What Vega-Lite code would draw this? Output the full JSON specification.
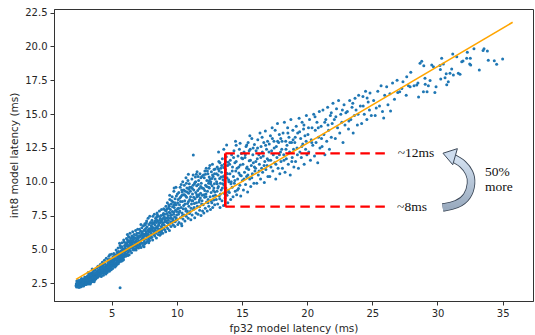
{
  "$schema": "https://vega.github.io/schema/vega-lite/v6.json",
  "width": 479,
  "height": 292,
  "autosize": {"type": "none"},
  "padding": {"left": 54, "top": 9, "right": 2, "bottom": 34},
  "background": "white",
  "datasets": {
    "pts": [
      {"x":2.26,"y":2.31},{"x":2.28,"y":2.45},{"x":2.3,"y":2.22},{"x":2.31,"y":2.38},{"x":2.33,"y":2.52},{"x":2.34,"y":2.28},{"x":2.36,"y":2.43},{"x":2.37,"y":2.6},{"x":2.39,"y":2.34},{"x":2.4,"y":2.49},
      {"x":2.41,"y":2.25},{"x":2.43,"y":2.4},{"x":2.44,"y":2.56},{"x":2.45,"y":2.31},{"x":2.47,"y":2.46},{"x":2.48,"y":2.36},{"x":2.5,"y":2.62},{"x":2.51,"y":2.27},{"x":2.52,"y":2.5},{"x":2.54,"y":2.41},
      {"x":2.55,"y":2.33},{"x":2.56,"y":2.58},{"x":2.58,"y":2.45},{"x":2.59,"y":2.29},{"x":2.6,"y":2.53},{"x":2.62,"y":2.38},{"x":2.63,"y":2.66},{"x":2.64,"y":2.47},{"x":2.66,"y":2.33},{"x":2.67,"y":2.56},
      {"x":2.69,"y":2.42},{"x":2.7,"y":2.72},{"x":2.71,"y":2.5},{"x":2.73,"y":2.36},{"x":2.74,"y":2.61},{"x":2.75,"y":2.45},{"x":2.77,"y":2.31},{"x":2.78,"y":2.55},{"x":2.79,"y":2.68},{"x":2.81,"y":2.4},
      {"x":2.82,"y":2.5},{"x":2.83,"y":2.77},{"x":2.85,"y":2.35},{"x":2.86,"y":2.6},{"x":2.87,"y":2.46},{"x":2.88,"y":2.84},{"x":2.9,"y":2.55},{"x":2.91,"y":2.39},{"x":2.92,"y":2.66},{"x":2.94,"y":2.5},
      {"x":2.95,"y":2.42},{"x":2.96,"y":2.74},{"x":2.97,"y":2.58},{"x":2.98,"y":2.47},{"x":2.99,"y":2.9},{"x":2.32,"y":2.67},{"x":2.42,"y":2.7},{"x":2.53,"y":2.2},{"x":2.65,"y":2.24},{"x":2.76,"y":2.8},
      {"x":2.84,"y":2.3},{"x":2.93,"y":2.97},{"x":2.57,"y":2.73},{"x":2.46,"y":2.2},{"x":2.68,"y":2.86},{"x":2.8,"y":2.62},{"x":2.89,"y":2.72},{"x":2.35,"y":2.5},{"x":2.72,"y":2.44},{"x":2.61,"y":2.4},
      {"x":3.01,"y":2.52},{"x":3.03,"y":2.67},{"x":3.04,"y":2.41},{"x":3.06,"y":2.8},{"x":3.07,"y":2.58},{"x":3.09,"y":2.95},{"x":3.1,"y":2.47},{"x":3.12,"y":2.71},{"x":3.13,"y":2.62},{"x":3.15,"y":3.05},
      {"x":3.16,"y":2.53},{"x":3.18,"y":2.84},{"x":3.19,"y":2.68},{"x":3.21,"y":2.45},{"x":3.22,"y":2.93},{"x":3.24,"y":2.6},{"x":3.25,"y":2.76},{"x":3.27,"y":3.15},{"x":3.28,"y":2.55},{"x":3.3,"y":2.88},
      {"x":3.31,"y":2.7},{"x":3.33,"y":2.5},{"x":3.34,"y":3.0},{"x":3.36,"y":2.64},{"x":3.37,"y":2.82},{"x":3.39,"y":3.22},{"x":3.4,"y":2.58},{"x":3.42,"y":2.95},{"x":3.43,"y":2.74},{"x":3.45,"y":2.62},
      {"x":3.46,"y":3.1},{"x":3.48,"y":2.85},{"x":3.49,"y":2.68},{"x":3.51,"y":3.3},{"x":3.52,"y":2.78},{"x":3.54,"y":2.97},{"x":3.55,"y":2.64},{"x":3.57,"y":3.16},{"x":3.58,"y":2.86},{"x":3.6,"y":2.72},
      {"x":3.61,"y":3.4},{"x":3.63,"y":3.02},{"x":3.64,"y":2.8},{"x":3.66,"y":2.7},{"x":3.67,"y":3.22},{"x":3.69,"y":2.93},{"x":3.7,"y":3.08},{"x":3.72,"y":2.78},{"x":3.73,"y":3.5},{"x":3.75,"y":2.88},
      {"x":3.76,"y":3.15},{"x":3.78,"y":3.0},{"x":3.79,"y":2.84},{"x":3.81,"y":3.32},{"x":3.82,"y":3.05},{"x":3.84,"y":2.92},{"x":3.85,"y":3.62},{"x":3.87,"y":3.18},{"x":3.88,"y":2.97},{"x":3.9,"y":3.4},
      {"x":3.91,"y":3.1},{"x":3.93,"y":2.95},{"x":3.94,"y":3.75},{"x":3.96,"y":3.25},{"x":3.97,"y":3.03},{"x":3.99,"y":3.48},{"x":3.2,"y":3.3},{"x":3.5,"y":3.55},{"x":3.65,"y":2.62},{"x":3.35,"y":2.45},
      {"x":3.05,"y":2.9},{"x":3.14,"y":2.75},{"x":3.23,"y":3.05},{"x":3.32,"y":2.78},{"x":3.41,"y":3.1},{"x":3.53,"y":2.9},{"x":3.62,"y":3.2},{"x":3.71,"y":2.95},{"x":3.8,"y":3.25},{"x":3.89,"y":3.05},{"x":3.98,"y":3.35},
      {"x":4.02,"y":3.2},{"x":4.04,"y":3.45},{"x":4.06,"y":3.05},{"x":4.08,"y":3.62},{"x":4.1,"y":3.3},{"x":4.12,"y":3.88},{"x":4.14,"y":3.15},{"x":4.16,"y":3.52},{"x":4.18,"y":3.38},{"x":4.2,"y":3.0},
      {"x":4.22,"y":3.7},{"x":4.24,"y":3.42},{"x":4.26,"y":3.25},{"x":4.28,"y":4.05},{"x":4.3,"y":3.58},{"x":4.32,"y":3.35},{"x":4.34,"y":3.8},{"x":4.36,"y":3.1},{"x":4.38,"y":3.5},{"x":4.4,"y":3.66},
      {"x":4.42,"y":3.28},{"x":4.44,"y":4.2},{"x":4.46,"y":3.55},{"x":4.48,"y":3.4},{"x":4.5,"y":3.9},{"x":4.52,"y":3.22},{"x":4.54,"y":3.72},{"x":4.56,"y":3.48},{"x":4.58,"y":4.35},{"x":4.6,"y":3.6},
      {"x":4.62,"y":3.35},{"x":4.64,"y":3.84},{"x":4.66,"y":3.52},{"x":4.68,"y":4.1},{"x":4.7,"y":3.42},{"x":4.72,"y":3.7},{"x":4.74,"y":3.95},{"x":4.76,"y":3.5},{"x":4.78,"y":4.5},{"x":4.8,"y":3.62},
      {"x":4.82,"y":3.38},{"x":4.84,"y":4.02},{"x":4.86,"y":3.78},{"x":4.88,"y":3.55},{"x":4.9,"y":4.3},{"x":4.92,"y":3.66},{"x":4.94,"y":3.88},{"x":4.96,"y":3.5},{"x":4.98,"y":4.65},{"x":4.15,"y":3.78},
      {"x":4.35,"y":3.95},{"x":4.55,"y":3.18},{"x":4.75,"y":4.25},{"x":4.95,"y":4.1},{"x":4.25,"y":3.6},{"x":4.65,"y":3.3},{"x":4.85,"y":4.6},{"x":4.45,"y":3.62},{"x":4.05,"y":3.75},
      {"x":4.07,"y":3.4},{"x":4.17,"y":3.6},{"x":4.27,"y":3.45},{"x":4.37,"y":3.72},{"x":4.47,"y":3.3},{"x":4.57,"y":3.85},{"x":4.67,"y":3.7},{"x":4.77,"y":3.88},{"x":4.87,"y":4.15},{"x":4.97,"y":3.82},
      {"x":5.02,"y":3.85},{"x":5.04,"y":4.2},{"x":5.07,"y":3.6},{"x":5.09,"y":4.45},{"x":5.11,"y":4.0},{"x":5.13,"y":3.75},{"x":5.16,"y":4.7},{"x":5.18,"y":4.1},{"x":5.2,"y":3.9},{"x":5.22,"y":4.35},
      {"x":5.25,"y":3.7},{"x":5.27,"y":4.55},{"x":5.29,"y":4.2},{"x":5.31,"y":4.0},{"x":5.34,"y":4.95},{"x":5.36,"y":4.3},{"x":5.38,"y":3.88},{"x":5.4,"y":4.6},{"x":5.43,"y":4.15},{"x":5.45,"y":4.4},
      {"x":5.47,"y":3.95},{"x":5.49,"y":5.1},{"x":5.52,"y":4.5},{"x":5.54,"y":4.25},{"x":5.56,"y":4.05},{"x":5.58,"y":4.75},{"x":5.61,"y":4.4},{"x":5.63,"y":4.15},{"x":5.65,"y":5.3},{"x":5.67,"y":4.6},
      {"x":5.7,"y":4.3},{"x":5.72,"y":4.9},{"x":5.74,"y":4.12},{"x":5.76,"y":4.5},{"x":5.79,"y":5.5},{"x":5.81,"y":4.7},{"x":5.83,"y":4.35},{"x":5.85,"y":5.05},{"x":5.88,"y":4.5},{"x":5.9,"y":4.25},
      {"x":5.92,"y":5.7},{"x":5.94,"y":4.85},{"x":5.97,"y":4.6},{"x":5.99,"y":5.3},{"x":5.15,"y":4.45},{"x":5.33,"y":3.8},{"x":5.5,"y":3.95},{"x":5.68,"y":5.15},{"x":5.86,"y":4.2},{"x":5.6,"y":5.45},
      {"x":5.42,"y":4.8},{"x":5.24,"y":4.6},{"x":5.78,"y":4.55},{"x":5.96,"y":5.55},{"x":5.64,"y":2.17},
      {"x":5.05,"y":4.0},{"x":5.12,"y":4.3},{"x":5.19,"y":3.8},{"x":5.26,"y":4.25},{"x":5.35,"y":4.55},{"x":5.44,"y":4.1},{"x":5.53,"y":4.85},{"x":5.62,"y":4.6},{"x":5.71,"y":4.45},{"x":5.8,"y":5.2},{"x":5.89,"y":4.85},{"x":5.98,"y":4.95},
      {"x":5.1,"y":4.15},{"x":5.21,"y":4.5},{"x":5.32,"y":4.3},{"x":5.46,"y":4.65},{"x":5.57,"y":4.3},{"x":5.69,"y":4.75},{"x":5.82,"y":4.95},{"x":5.93,"y":4.45},
      {"x":6.02,"y":4.7},{"x":6.04,"y":5.1},{"x":6.07,"y":4.5},{"x":6.09,"y":5.45},{"x":6.11,"y":4.9},{"x":6.13,"y":5.8},{"x":6.16,"y":4.65},{"x":6.18,"y":5.25},{"x":6.2,"y":6.1},{"x":6.22,"y":5.0},
      {"x":6.25,"y":5.55},{"x":6.27,"y":4.8},{"x":6.29,"y":5.95},{"x":6.31,"y":5.3},{"x":6.34,"y":4.6},{"x":6.36,"y":5.65},{"x":6.38,"y":5.1},{"x":6.4,"y":6.2},{"x":6.43,"y":4.9},{"x":6.45,"y":5.4},
      {"x":6.47,"y":5.8},{"x":6.49,"y":5.15},{"x":6.52,"y":4.75},{"x":6.54,"y":6.0},{"x":6.56,"y":5.5},{"x":6.58,"y":5.2},{"x":6.61,"y":6.3},{"x":6.63,"y":5.0},{"x":6.65,"y":5.7},{"x":6.67,"y":5.35},
      {"x":6.7,"y":4.95},{"x":6.72,"y":6.1},{"x":6.74,"y":5.55},{"x":6.76,"y":5.25},{"x":6.79,"y":5.85},{"x":6.81,"y":5.05},{"x":6.83,"y":6.4},{"x":6.85,"y":5.6},{"x":6.88,"y":5.3},{"x":6.9,"y":6.05},
      {"x":6.92,"y":5.15},{"x":6.94,"y":5.75},{"x":6.97,"y":5.4},{"x":6.99,"y":6.5},{"x":6.15,"y":5.5},{"x":6.33,"y":5.9},{"x":6.51,"y":5.6},{"x":6.69,"y":5.9},{"x":6.87,"y":4.95},{"x":6.24,"y":4.55},
      {"x":6.05,"y":5.3},{"x":6.12,"y":5.0},{"x":6.21,"y":5.7},{"x":6.3,"y":5.15},{"x":6.39,"y":5.5},{"x":6.48,"y":5.35},{"x":6.57,"y":5.85},{"x":6.66,"y":5.1},{"x":6.75,"y":5.8},{"x":6.84,"y":5.45},{"x":6.93,"y":6.2},{"x":6.98,"y":5.9},
      {"x":6.06,"y":4.85},{"x":6.19,"y":5.35},{"x":6.32,"y":5.0},{"x":6.44,"y":5.65},{"x":6.55,"y":5.3},{"x":6.68,"y":5.55},{"x":6.8,"y":5.35},{"x":6.91,"y":5.55},
      {"x":7.02,"y":5.3},{"x":7.04,"y":5.8},{"x":7.06,"y":5.1},{"x":7.09,"y":6.2},{"x":7.11,"y":5.55},{"x":7.13,"y":6.5},{"x":7.15,"y":5.25},{"x":7.18,"y":5.95},{"x":7.2,"y":5.65},{"x":7.22,"y":6.35},
      {"x":7.25,"y":5.15},{"x":7.27,"y":6.05},{"x":7.29,"y":5.75},{"x":7.31,"y":6.6},{"x":7.34,"y":5.45},{"x":7.36,"y":6.2},{"x":7.38,"y":5.9},{"x":7.4,"y":5.3},{"x":7.43,"y":6.75},{"x":7.45,"y":5.7},
      {"x":7.47,"y":6.4},{"x":7.5,"y":6.0},{"x":7.52,"y":5.4},{"x":7.54,"y":6.9},{"x":7.56,"y":6.15},{"x":7.59,"y":5.75},{"x":7.61,"y":6.55},{"x":7.63,"y":5.5},{"x":7.65,"y":6.3},{"x":7.68,"y":7.1},
      {"x":7.7,"y":5.95},{"x":7.72,"y":6.65},{"x":7.74,"y":5.6},{"x":7.77,"y":6.4},{"x":7.79,"y":7.3},{"x":7.81,"y":6.1},{"x":7.83,"y":5.75},{"x":7.86,"y":6.85},{"x":7.88,"y":6.3},{"x":7.9,"y":5.65},
      {"x":7.92,"y":7.45},{"x":7.95,"y":6.55},{"x":7.97,"y":6.0},{"x":7.99,"y":7.0},{"x":7.24,"y":6.85},{"x":7.48,"y":5.2},{"x":7.66,"y":6.95},{"x":7.84,"y":5.5},
      {"x":7.05,"y":5.6},{"x":7.14,"y":6.0},{"x":7.23,"y":5.5},{"x":7.32,"y":6.3},{"x":7.41,"y":6.1},{"x":7.5,"y":5.55},{"x":7.58,"y":6.8},{"x":7.67,"y":6.2},{"x":7.76,"y":5.9},{"x":7.85,"y":6.5},{"x":7.94,"y":6.95},{"x":7.98,"y":5.85},
      {"x":7.07,"y":5.95},{"x":7.19,"y":5.4},{"x":7.3,"y":6.15},{"x":7.42,"y":5.85},{"x":7.53,"y":6.45},{"x":7.64,"y":6.05},{"x":7.75,"y":6.15},{"x":7.87,"y":5.95},{"x":7.96,"y":6.35},
      {"x":8.02,"y":6.2},{"x":8.04,"y":6.75},{"x":8.07,"y":5.9},{"x":8.09,"y":7.15},{"x":8.11,"y":6.45},{"x":8.14,"y":5.7},{"x":8.16,"y":7.45},{"x":8.18,"y":6.6},{"x":8.2,"y":6.1},{"x":8.23,"y":6.95},
      {"x":8.25,"y":6.35},{"x":8.27,"y":7.6},{"x":8.3,"y":6.0},{"x":8.32,"y":6.8},{"x":8.34,"y":6.45},{"x":8.36,"y":7.3},{"x":8.39,"y":6.2},{"x":8.41,"y":7.0},{"x":8.43,"y":5.85},{"x":8.46,"y":6.65},
      {"x":8.48,"y":7.7},{"x":8.5,"y":6.35},{"x":8.52,"y":7.1},{"x":8.55,"y":6.55},{"x":8.57,"y":6.1},{"x":8.59,"y":7.45},{"x":8.61,"y":6.8},{"x":8.64,"y":6.3},{"x":8.66,"y":7.85},{"x":8.68,"y":6.95},
      {"x":8.7,"y":6.5},{"x":8.73,"y":7.3},{"x":8.75,"y":6.15},{"x":8.77,"y":7.05},{"x":8.8,"y":6.7},{"x":8.82,"y":7.95},{"x":8.84,"y":6.4},{"x":8.86,"y":7.2},{"x":8.89,"y":6.85},{"x":8.91,"y":6.2},
      {"x":8.93,"y":7.55},{"x":8.95,"y":6.95},{"x":8.98,"y":6.55},{"x":8.45,"y":7.4},{"x":8.13,"y":6.9},
      {"x":8.06,"y":6.5},{"x":8.15,"y":7.0},{"x":8.24,"y":6.15},{"x":8.33,"y":7.1},{"x":8.42,"y":6.6},{"x":8.51,"y":7.55},{"x":8.6,"y":6.95},{"x":8.69,"y":6.05},{"x":8.78,"y":7.5},{"x":8.87,"y":6.6},{"x":8.96,"y":7.3},{"x":8.99,"y":8.0},
      {"x":8.08,"y":6.65},{"x":8.19,"y":6.35},{"x":8.31,"y":6.55},{"x":8.44,"y":7.2},{"x":8.56,"y":6.75},{"x":8.67,"y":7.15},{"x":8.79,"y":6.3},{"x":8.9,"y":7.0},{"x":8.97,"y":7.65},
      {"x":9.02,"y":6.8},{"x":9.04,"y":7.4},{"x":9.07,"y":6.45},{"x":9.09,"y":7.9},{"x":9.11,"y":7.05},{"x":9.14,"y":6.3},{"x":9.16,"y":8.2},{"x":9.18,"y":7.3},{"x":9.2,"y":6.7},{"x":9.23,"y":7.65},
      {"x":9.25,"y":7.0},{"x":9.27,"y":8.45},{"x":9.3,"y":6.55},{"x":9.32,"y":7.5},{"x":9.34,"y":7.15},{"x":9.36,"y":8.05},{"x":9.39,"y":6.85},{"x":9.41,"y":7.75},{"x":9.43,"y":6.4},{"x":9.46,"y":8.7},
      {"x":9.48,"y":7.3},{"x":9.5,"y":7.95},{"x":9.52,"y":7.05},{"x":9.55,"y":6.7},{"x":9.57,"y":8.35},{"x":9.59,"y":7.55},{"x":9.61,"y":6.95},{"x":9.64,"y":8.9},{"x":9.66,"y":7.8},{"x":9.68,"y":7.25},
      {"x":9.7,"y":8.5},{"x":9.73,"y":6.8},{"x":9.75,"y":7.6},{"x":9.77,"y":9.3},{"x":9.8,"y":8.1},{"x":9.82,"y":7.4},{"x":9.84,"y":6.7},{"x":9.86,"y":8.75},{"x":9.89,"y":7.9},{"x":9.91,"y":7.15},
      {"x":9.93,"y":9.6},{"x":9.95,"y":8.3},{"x":9.98,"y":7.55},{"x":9.45,"y":9.0},{"x":9.79,"y":9.55},
      {"x":9.06,"y":7.6},{"x":9.15,"y":7.1},{"x":9.24,"y":8.0},{"x":9.33,"y":6.95},{"x":9.42,"y":8.2},{"x":9.51,"y":7.5},{"x":9.6,"y":8.6},{"x":9.69,"y":7.1},{"x":9.78,"y":8.3},{"x":9.87,"y":7.05},{"x":9.96,"y":8.95},{"x":9.99,"y":7.8},
      {"x":9.08,"y":7.2},{"x":9.19,"y":7.85},{"x":9.29,"y":7.35},{"x":9.38,"y":8.3},{"x":9.49,"y":7.7},{"x":9.58,"y":7.3},{"x":9.67,"y":8.15},{"x":9.76,"y":7.75},{"x":9.85,"y":8.45},{"x":9.94,"y":7.35},
      {"x":10.02,"y":7.2},{"x":10.05,"y":8.0},{"x":10.07,"y":6.85},{"x":10.1,"y":8.7},{"x":10.12,"y":7.6},{"x":10.15,"y":9.2},{"x":10.17,"y":7.0},{"x":10.2,"y":8.3},{"x":10.22,"y":7.85},{"x":10.25,"y":9.6},
      {"x":10.27,"y":7.35},{"x":10.3,"y":8.9},{"x":10.32,"y":8.1},{"x":10.35,"y":6.9},{"x":10.37,"y":9.4},{"x":10.4,"y":7.7},{"x":10.42,"y":8.55},{"x":10.45,"y":10.0},{"x":10.47,"y":7.25},{"x":10.5,"y":9.05},
      {"x":10.52,"y":8.25},{"x":10.55,"y":7.55},{"x":10.57,"y":9.75},{"x":10.6,"y":8.6},{"x":10.62,"y":7.1},{"x":10.65,"y":9.3},{"x":10.67,"y":8.0},{"x":10.7,"y":10.3},{"x":10.72,"y":7.45},{"x":10.75,"y":8.85},
      {"x":10.77,"y":9.55},{"x":10.8,"y":7.85},{"x":10.82,"y":8.4},{"x":10.85,"y":10.1},{"x":10.87,"y":7.3},{"x":10.9,"y":9.15},{"x":10.92,"y":8.2},{"x":10.95,"y":9.85},{"x":10.97,"y":7.65},{"x":10.99,"y":8.7},
      {"x":10.38,"y":6.75},{"x":10.88,"y":10.55},
      {"x":10.04,"y":9.1},{"x":10.13,"y":8.05},{"x":10.23,"y":8.8},{"x":10.33,"y":9.8},{"x":10.43,"y":7.5},{"x":10.53,"y":9.4},{"x":10.63,"y":8.35},{"x":10.73,"y":9.9},{"x":10.83,"y":7.7},{"x":10.93,"y":9.45},{"x":10.41,"y":9.25},{"x":10.68,"y":8.95},
      {"x":10.06,"y":8.45},{"x":10.18,"y":7.75},{"x":10.28,"y":8.55},{"x":10.39,"y":9.0},{"x":10.49,"y":8.0},{"x":10.59,"y":9.05},{"x":10.69,"y":7.85},{"x":10.79,"y":9.25},{"x":10.89,"y":8.55},{"x":10.98,"y":9.6},
      {"x":11.02,"y":7.8},{"x":11.05,"y":8.9},{"x":11.07,"y":7.2},{"x":11.1,"y":9.6},{"x":11.12,"y":8.35},{"x":11.15,"y":10.2},{"x":11.17,"y":7.55},{"x":11.2,"y":9.1},{"x":11.22,"y":8.6},{"x":11.25,"y":10.5},
      {"x":11.27,"y":7.95},{"x":11.3,"y":9.4},{"x":11.32,"y":8.1},{"x":11.35,"y":9.85},{"x":11.37,"y":7.35},{"x":11.4,"y":8.75},{"x":11.42,"y":10.35},{"x":11.45,"y":9.2},{"x":11.47,"y":7.7},{"x":11.5,"y":8.45},
      {"x":11.52,"y":9.7},{"x":11.55,"y":10.75},{"x":11.57,"y":8.2},{"x":11.6,"y":9.35},{"x":11.62,"y":7.6},{"x":11.65,"y":8.95},{"x":11.67,"y":10.1},{"x":11.7,"y":8.5},{"x":11.72,"y":9.5},{"x":11.75,"y":7.9},
      {"x":11.77,"y":10.6},{"x":11.8,"y":8.8},{"x":11.82,"y":9.15},{"x":11.85,"y":7.5},{"x":11.87,"y":9.9},{"x":11.9,"y":8.35},{"x":11.92,"y":10.4},{"x":11.95,"y":9.0},{"x":11.97,"y":7.85},{"x":11.26,"y":11.98},
      {"x":11.04,"y":9.3},{"x":11.14,"y":8.6},{"x":11.24,"y":9.75},{"x":11.34,"y":8.4},{"x":11.44,"y":10.0},{"x":11.54,"y":8.9},{"x":11.64,"y":9.8},{"x":11.74,"y":8.15},{"x":11.84,"y":10.3},{"x":11.94,"y":9.55},{"x":11.49,"y":10.55},{"x":11.69,"y":9.05},
      {"x":11.09,"y":8.05},{"x":11.19,"y":9.5},{"x":11.29,"y":8.85},{"x":11.39,"y":9.95},{"x":11.53,"y":9.05},{"x":11.63,"y":10.4},{"x":11.73,"y":8.65},{"x":11.83,"y":9.65},{"x":11.93,"y":8.6},
      {"x":12.02,"y":8.3},{"x":12.05,"y":9.5},{"x":12.07,"y":7.7},{"x":12.1,"y":10.3},{"x":12.13,"y":8.85},{"x":12.15,"y":10.8},{"x":12.18,"y":8.05},{"x":12.2,"y":9.75},{"x":12.23,"y":9.1},{"x":12.25,"y":11.0},
      {"x":12.28,"y":8.5},{"x":12.3,"y":10.1},{"x":12.33,"y":7.85},{"x":12.35,"y":9.3},{"x":12.38,"y":10.6},{"x":12.4,"y":8.7},{"x":12.43,"y":9.9},{"x":12.45,"y":8.2},{"x":12.48,"y":10.35},{"x":12.5,"y":9.55},
      {"x":12.53,"y":11.2},{"x":12.55,"y":8.9},{"x":12.58,"y":7.95},{"x":12.6,"y":10.0},{"x":12.63,"y":9.2},{"x":12.65,"y":10.75},{"x":12.68,"y":8.45},{"x":12.7,"y":9.7},{"x":12.73,"y":11.3},{"x":12.75,"y":8.1},
      {"x":12.78,"y":10.4},{"x":12.8,"y":9.35},{"x":12.83,"y":8.65},{"x":12.85,"y":10.9},{"x":12.88,"y":9.85},{"x":12.9,"y":8.3},{"x":12.93,"y":10.2},{"x":12.96,"y":9.0},
      {"x":12.04,"y":10.5},{"x":12.14,"y":9.35},{"x":12.24,"y":8.9},{"x":12.34,"y":10.8},{"x":12.44,"y":9.6},{"x":12.54,"y":10.2},{"x":12.64,"y":8.6},{"x":12.74,"y":10.5},{"x":12.84,"y":9.55},{"x":12.94,"y":10.95},{"x":12.47,"y":11.0},{"x":12.91,"y":9.25},
      {"x":12.09,"y":9.05},{"x":12.19,"y":10.55},{"x":12.29,"y":9.65},{"x":12.39,"y":8.45},{"x":12.49,"y":10.05},{"x":12.59,"y":9.85},{"x":12.69,"y":10.25},{"x":12.79,"y":8.95},{"x":12.89,"y":10.6},
      {"x":13.02,"y":8.7},{"x":13.05,"y":10.0},{"x":13.08,"y":9.3},{"x":13.1,"y":11.1},{"x":13.13,"y":8.35},{"x":13.16,"y":10.5},{"x":13.19,"y":9.65},{"x":13.22,"y":11.5},{"x":13.25,"y":8.95},{"x":13.28,"y":10.25},
      {"x":13.31,"y":8.1},{"x":13.34,"y":9.9},{"x":13.37,"y":11.0},{"x":13.4,"y":9.4},{"x":13.43,"y":10.7},{"x":13.46,"y":8.6},{"x":13.49,"y":11.7},{"x":13.52,"y":9.85},{"x":13.55,"y":10.4},{"x":13.58,"y":8.25},
      {"x":13.61,"y":9.15},{"x":13.64,"y":11.3},{"x":13.67,"y":10.05},{"x":13.7,"y":8.8},{"x":13.73,"y":10.9},{"x":13.76,"y":9.55},{"x":13.79,"y":11.85},{"x":13.82,"y":12.72},{"x":13.85,"y":9.0},{"x":13.88,"y":10.6},
      {"x":13.91,"y":8.45},{"x":13.94,"y":11.45},{"x":13.97,"y":10.15},{"x":13.2,"y":12.2},{"x":13.6,"y":12.4},
      {"x":13.04,"y":10.6},{"x":13.14,"y":9.55},{"x":13.24,"y":10.8},{"x":13.34,"y":9.1},{"x":13.44,"y":11.2},{"x":13.54,"y":10.15},{"x":13.64,"y":9.75},{"x":13.74,"y":11.5},{"x":13.84,"y":10.3},{"x":13.94,"y":9.35},{"x":13.3,"y":11.4},{"x":13.8,"y":10.65},
      {"x":13.09,"y":9.85},{"x":13.19,"y":10.95},{"x":13.29,"y":8.75},{"x":13.39,"y":10.35},{"x":13.49,"y":9.55},{"x":13.59,"y":11.05},{"x":13.69,"y":10.5},{"x":13.79,"y":9.2},{"x":13.89,"y":11.2},{"x":13.99,"y":10.0},
      {"x":14.03,"y":9.2},{"x":14.07,"y":10.6},{"x":14.1,"y":11.6},{"x":14.13,"y":8.7},{"x":14.17,"y":10.0},{"x":14.2,"y":12.0},{"x":14.24,"y":9.6},{"x":14.27,"y":11.1},{"x":14.31,"y":8.9},{"x":14.34,"y":10.4},
      {"x":14.38,"y":12.3},{"x":14.41,"y":9.9},{"x":14.45,"y":11.4},{"x":14.48,"y":9.3},{"x":14.52,"y":10.8},{"x":14.55,"y":12.7},{"x":14.59,"y":9.05},{"x":14.62,"y":11.0},{"x":14.66,"y":10.2},{"x":14.69,"y":11.9},
      {"x":14.73,"y":9.5},{"x":14.76,"y":10.65},{"x":14.8,"y":12.4},{"x":14.83,"y":9.75},{"x":14.87,"y":11.25},{"x":14.9,"y":8.95},{"x":14.94,"y":10.45},{"x":14.97,"y":11.75},{"x":14.5,"y":13.0},{"x":14.85,"y":12.85},
      {"x":14.05,"y":11.3},{"x":14.15,"y":9.85},{"x":14.25,"y":10.8},{"x":14.35,"y":11.8},{"x":14.45,"y":10.1},{"x":14.55,"y":11.5},{"x":14.65,"y":9.4},{"x":14.75,"y":11.1},{"x":14.85,"y":10.5},{"x":14.95,"y":12.1},
      {"x":15.03,"y":10.1},{"x":15.07,"y":11.3},{"x":15.11,"y":9.4},{"x":15.15,"y":12.2},{"x":15.19,"y":10.7},{"x":15.23,"y":11.8},{"x":15.27,"y":9.8},{"x":15.31,"y":12.6},{"x":15.35,"y":10.4},{"x":15.39,"y":11.1},
      {"x":15.43,"y":9.25},{"x":15.47,"y":12.9},{"x":15.51,"y":10.9},{"x":15.55,"y":11.55},{"x":15.59,"y":10.2},{"x":15.63,"y":12.4},{"x":15.67,"y":9.65},{"x":15.71,"y":11.2},{"x":15.75,"y":13.2},{"x":15.79,"y":10.6},
      {"x":15.83,"y":12.0},{"x":15.87,"y":11.4},{"x":15.91,"y":9.9},{"x":15.95,"y":12.75},{"x":15.99,"y":10.8},{"x":15.36,"y":12.72},{"x":15.6,"y":13.4},
      {"x":15.05,"y":11.7},{"x":15.15,"y":10.2},{"x":15.25,"y":12.0},{"x":15.35,"y":11.0},{"x":15.45,"y":10.5},{"x":15.55,"y":12.3},{"x":15.65,"y":11.6},{"x":15.75,"y":10.3},{"x":15.85,"y":12.5},{"x":15.95,"y":11.1},
      {"x":16.04,"y":11.0},{"x":16.08,"y":12.3},{"x":16.13,"y":9.9},{"x":16.17,"y":11.7},{"x":16.21,"y":13.1},{"x":16.25,"y":10.5},{"x":16.29,"y":12.0},{"x":16.33,"y":11.3},{"x":16.38,"y":13.6},{"x":16.42,"y":10.2},
      {"x":16.46,"y":12.6},{"x":16.5,"y":11.0},{"x":16.54,"y":13.3},{"x":16.58,"y":10.7},{"x":16.63,"y":11.9},{"x":16.67,"y":12.9},{"x":16.71,"y":9.95},{"x":16.75,"y":11.5},{"x":16.79,"y":13.75},{"x":16.83,"y":10.9},
      {"x":16.88,"y":12.4},{"x":16.92,"y":11.2},{"x":16.96,"y":13.0},{"x":16.99,"y":10.4},
      {"x":16.06,"y":11.5},{"x":16.19,"y":12.5},{"x":16.31,"y":10.8},{"x":16.44,"y":11.8},{"x":16.56,"y":12.2},{"x":16.69,"y":11.2},{"x":16.81,"y":12.7},{"x":16.94,"y":11.7},
      {"x":17.04,"y":11.6},{"x":17.09,"y":12.8},{"x":17.13,"y":10.4},{"x":17.18,"y":13.4},{"x":17.22,"y":11.1},{"x":17.27,"y":12.3},{"x":17.31,"y":14.0},{"x":17.36,"y":10.8},{"x":17.4,"y":12.0},{"x":17.45,"y":13.0},
      {"x":17.5,"y":11.4},{"x":17.54,"y":13.8},{"x":17.59,"y":10.2},{"x":17.63,"y":12.6},{"x":17.68,"y":11.8},{"x":17.72,"y":14.3},{"x":17.77,"y":11.0},{"x":17.81,"y":12.9},{"x":17.86,"y":13.5},{"x":17.9,"y":10.6},
      {"x":17.95,"y":12.2},{"x":17.99,"y":11.5},
      {"x":17.07,"y":12.2},{"x":17.2,"y":11.6},{"x":17.33,"y":13.2},{"x":17.47,"y":12.5},{"x":17.6,"y":11.3},{"x":17.73,"y":13.0},{"x":17.87,"y":12.0},{"x":17.97,"y":13.2},
      {"x":18.05,"y":12.4},{"x":18.1,"y":11.0},{"x":18.15,"y":13.6},{"x":18.2,"y":12.0},{"x":18.25,"y":14.4},{"x":18.3,"y":10.7},{"x":18.35,"y":13.0},{"x":18.4,"y":11.7},{"x":18.45,"y":12.7},{"x":18.5,"y":14.0},
      {"x":18.55,"y":11.3},{"x":18.6,"y":13.3},{"x":18.65,"y":12.2},{"x":18.7,"y":10.5},{"x":18.75,"y":14.6},{"x":18.8,"y":12.9},{"x":18.85,"y":11.8},{"x":18.9,"y":13.8},{"x":18.95,"y":12.4},{"x":18.98,"y":11.1},
      {"x":18.07,"y":13.0},{"x":18.22,"y":11.6},{"x":18.37,"y":12.4},{"x":18.52,"y":13.6},{"x":18.67,"y":12.9},{"x":18.82,"y":11.5},{"x":18.92,"y":13.1},
      {"x":19.05,"y":12.9},{"x":19.11,"y":11.5},{"x":19.16,"y":14.1},{"x":19.22,"y":12.5},{"x":19.27,"y":13.6},{"x":19.33,"y":11.0},{"x":19.38,"y":14.7},{"x":19.44,"y":12.2},{"x":19.5,"y":13.2},{"x":19.55,"y":11.8},
      {"x":19.61,"y":14.4},{"x":19.66,"y":12.8},{"x":19.72,"y":13.9},{"x":19.77,"y":11.3},{"x":19.83,"y":13.4},{"x":19.88,"y":12.4},{"x":19.94,"y":14.9},{"x":19.98,"y":12.0},
      {"x":19.08,"y":13.3},{"x":19.25,"y":12.0},{"x":19.42,"y":13.7},{"x":19.58,"y":12.6},{"x":19.75,"y":14.2},{"x":19.92,"y":13.0},
      {"x":20.06,"y":13.5},{"x":20.12,"y":12.2},{"x":20.18,"y":14.6},{"x":20.25,"y":11.6},{"x":20.31,"y":13.1},{"x":20.37,"y":14.0},{"x":20.43,"y":12.7},{"x":20.5,"y":15.0},{"x":20.56,"y":11.9},{"x":20.62,"y":13.8},
      {"x":20.68,"y":12.9},{"x":20.75,"y":14.4},{"x":20.81,"y":11.4},{"x":20.87,"y":13.3},{"x":20.93,"y":15.2},{"x":20.98,"y":12.5},
      {"x":20.1,"y":14.0},{"x":20.35,"y":12.9},{"x":20.6,"y":14.8},{"x":20.85,"y":14.0},
      {"x":21.07,"y":14.1},{"x":21.14,"y":12.6},{"x":21.21,"y":15.3},{"x":21.28,"y":13.5},{"x":21.36,"y":12.0},{"x":21.43,"y":14.6},{"x":21.5,"y":13.0},{"x":21.57,"y":15.5},{"x":21.64,"y":13.8},{"x":21.71,"y":12.4},
      {"x":21.78,"y":14.9},{"x":21.85,"y":13.3},{"x":21.92,"y":14.3},{"x":21.98,"y":15.8},
      {"x":21.1,"y":13.2},{"x":21.35,"y":14.4},{"x":21.6,"y":14.2},{"x":21.85,"y":15.1},
      {"x":22.08,"y":14.6},{"x":22.16,"y":13.2},{"x":22.25,"y":15.4},{"x":22.33,"y":14.0},{"x":22.41,"y":16.0},{"x":22.5,"y":13.6},{"x":22.58,"y":15.0},{"x":22.66,"y":14.4},{"x":22.75,"y":12.9},{"x":22.83,"y":15.7},
      {"x":22.9,"y":14.2},{"x":22.97,"y":15.1},{"x":22.2,"y":14.8},{"x":22.7,"y":15.3},
      {"x":23.08,"y":15.2},{"x":23.17,"y":13.9},{"x":23.26,"y":16.0},{"x":23.35,"y":14.6},{"x":23.44,"y":15.5},{"x":23.53,"y":13.6},{"x":23.62,"y":14.9},{"x":23.67,"y":16.17},{"x":23.75,"y":15.3},{"x":23.85,"y":14.2},
      {"x":23.95,"y":16.4},{"x":23.2,"y":14.5},{"x":23.5,"y":15.8},{"x":23.9,"y":15.0},
      {"x":24.08,"y":15.6},{"x":24.18,"y":14.3},{"x":24.28,"y":16.3},{"x":24.38,"y":15.0},{"x":24.48,"y":16.7},{"x":24.58,"y":14.6},{"x":24.68,"y":15.9},{"x":24.78,"y":15.3},{"x":24.82,"y":16.56},{"x":24.92,"y":14.9},
      {"x":24.3,"y":15.6},{"x":24.6,"y":16.2},
      {"x":25.1,"y":16.0},{"x":25.22,"y":14.9},{"x":25.3,"y":15.45},{"x":25.42,"y":16.7},{"x":25.55,"y":15.6},{"x":25.67,"y":17.1},{"x":25.78,"y":15.2},{"x":25.87,"y":14.72},{"x":25.95,"y":16.4},
      {"x":26.1,"y":17.03},{"x":26.2,"y":15.7},{"x":26.35,"y":16.5},{"x":26.4,"y":15.23},{"x":26.55,"y":17.3},{"x":26.7,"y":16.1},{"x":26.9,"y":17.5},{"x":26.95,"y":16.6},
      {"x":27.1,"y":16.66},{"x":27.26,"y":16.9},{"x":27.35,"y":17.4},{"x":27.6,"y":16.4},{"x":27.64,"y":17.77},{"x":27.77,"y":17.1},{"x":27.9,"y":17.03},{"x":27.95,"y":18.1},
      {"x":28.2,"y":17.1},{"x":28.41,"y":17.15},{"x":28.5,"y":17.3},{"x":28.55,"y":16.27},{"x":28.66,"y":18.76},{"x":28.79,"y":18.9},{"x":28.92,"y":16.66},{"x":28.95,"y":18.58},
      {"x":29.04,"y":17.65},{"x":29.06,"y":17.2},{"x":29.2,"y":16.66},{"x":29.3,"y":17.1},{"x":29.43,"y":17.48},{"x":29.56,"y":18.63},{"x":29.69,"y":18.5},{"x":29.8,"y":16.6},{"x":29.89,"y":17.03},
      {"x":30.19,"y":18.6},{"x":30.22,"y":18.3},{"x":30.25,"y":17.6},{"x":30.32,"y":19.13},{"x":30.45,"y":18.7},{"x":30.58,"y":17.69},{"x":30.67,"y":17.98},{"x":30.71,"y":17.17},{"x":30.83,"y":17.4},{"x":30.96,"y":18.02},
      {"x":31.09,"y":18.34},{"x":31.17,"y":19.44},{"x":31.22,"y":17.9},{"x":31.48,"y":19.25},{"x":31.6,"y":18.02},{"x":31.73,"y":17.95},{"x":31.86,"y":18.87},{"x":31.96,"y":18.92},
      {"x":32.24,"y":19.13},{"x":32.29,"y":19.57},{"x":32.47,"y":18.7},{"x":32.52,"y":19.13},{"x":32.55,"y":18.63},{"x":32.8,"y":19.84},
      {"x":33.21,"y":18.26},{"x":33.5,"y":19.7},{"x":33.57,"y":19.84},{"x":33.83,"y":19.67},{"x":33.9,"y":18.98},{"x":34.36,"y":18.95},{"x":34.54,"y":18.68},{"x":35.0,"y":19.07}
    ],
    "fit": [{"x": 2.26, "y": 2.79}, {"x": 35.77, "y": 21.79}],
    "bracket": [{"x": 13.72, "y": 8.16, "y2": 12.1}],
    "guides": [{"x": 13.72, "x2": 26.1, "y": 12.1}, {"x": 13.72, "x2": 26.1, "y": 8.16}],
    "notes": [
      {"x": 26.95, "y": 12.1, "t": "~12ms"},
      {"x": 26.9, "y": 8.16, "t": "~8ms"},
      {"x": 33.65, "y": 10.75, "t": "50%"},
      {"x": 33.65, "y": 9.64, "t": "more"}
    ],
    "arrow": [
      {"i": 1, "x": 30.4, "y": 8.1},
      {"i": 2, "x": 31.5, "y": 8.28},
      {"i": 3, "x": 32.34, "y": 8.87},
      {"i": 4, "x": 32.65, "y": 9.91},
      {"i": 5, "x": 32.5, "y": 10.69},
      {"i": 6, "x": 31.92, "y": 11.37},
      {"i": 7, "x": 31.45, "y": 11.61},
      {"i": 8, "x": 31.25, "y": 11.75}
    ],
    "head": [{"x": 31.04, "y": 11.94}]
  },
  "layer": [
    {
      "data": {"name": "pts"},
      "mark": {"type": "circle", "size": 9, "color": "#1f77b4", "opacity": 1},
      "encoding": {
        "x": {"field": "x", "type": "quantitative", "scale": {"domain": [0.57, 37.33], "nice": false, "zero": false},
              "axis": {"title": "fp32 model latency (ms)", "values": [5, 10, 15, 20, 25, 30, 35], "tickCount": 20, "format": "d", "labelPadding": 3, "titlePadding": 5, "labelOverlap": false}},
        "y": {"field": "y", "type": "quantitative", "scale": {"domain": [1.19, 22.77], "nice": false, "zero": false},
              "axis": {"title": "int8 model latency (ms)", "values": [2.5, 5, 7.5, 10, 12.5, 15, 17.5, 20, 22.5], "tickCount": 20, "format": ".1f", "labelPadding": 3, "titlePadding": 5, "labelOverlap": false, "labelBound": false}}
      }
    },
    {
      "data": {"name": "fit"},
      "mark": {"type": "line", "color": "#ffa500", "strokeWidth": 1.6},
      "encoding": {"x": {"field": "x", "type": "quantitative"}, "y": {"field": "y", "type": "quantitative"}}
    },
    {
      "data": {"name": "guides"},
      "mark": {"type": "rule", "color": "#ff0000", "strokeWidth": 2.2, "strokeDash": [9.5, 5.5]},
      "encoding": {"x": {"field": "x", "type": "quantitative"}, "x2": {"field": "x2"}, "y": {"field": "y", "type": "quantitative"}}
    },
    {
      "data": {"name": "bracket"},
      "mark": {"type": "rule", "color": "#ff0000", "strokeWidth": 2.7},
      "encoding": {"x": {"field": "x", "type": "quantitative"}, "y": {"field": "y", "type": "quantitative"}, "y2": {"field": "y2"}}
    },
    {
      "data": {"name": "notes"},
      "mark": {"type": "text", "align": "left", "baseline": "middle", "font": "Liberation Serif", "fontSize": 13.5, "color": "#111111"},
      "encoding": {"x": {"field": "x", "type": "quantitative"}, "y": {"field": "y", "type": "quantitative"}, "text": {"field": "t"}}
    },
    {
      "data": {"name": "arrow"},
      "mark": {"type": "line", "color": "#3a4656", "strokeWidth": 8.5, "interpolate": "basis", "strokeCap": "butt"},
      "encoding": {"x": {"field": "x", "type": "quantitative"}, "y": {"field": "y", "type": "quantitative"}, "order": {"field": "i"}}
    },
    {
      "data": {"name": "arrow"},
      "mark": {"type": "line", "color": {"gradient": "linear", "x1": 0, "y1": 1, "x2": 0, "y2": 0, "stops": [{"offset": 0, "color": "#9aabbf"}, {"offset": 1, "color": "#d3e1f1"}]}, "strokeWidth": 6.8, "interpolate": "basis", "strokeCap": "butt"},
      "encoding": {"x": {"field": "x", "type": "quantitative"}, "y": {"field": "y", "type": "quantitative"}, "order": {"field": "i"}}
    },
    {
      "data": {"name": "head"},
      "mark": {"type": "point", "shape": "M -1 0 L 0.5 -1 L 0.5 1 Z", "filled": true, "size": 280, "angle": 16, "fill": "#cddcee", "stroke": "#3a4656", "strokeWidth": 0.9, "opacity": 1},
      "encoding": {"x": {"field": "x", "type": "quantitative"}, "y": {"field": "y", "type": "quantitative"}}
    }
  ],
  "config": {
    "font": "DejaVu Sans",
    "view": {"stroke": "#333333", "strokeWidth": 1},
    "axis": {
      "grid": false,
      "labelFont": "DejaVu Sans",
      "labelFontSize": 10,
      "labelColor": "#262626",
      "titleFont": "DejaVu Sans",
      "titleFontSize": 10.5,
      "titleFontWeight": "normal",
      "titleColor": "#262626",
      "domainColor": "#333333",
      "tickColor": "#333333",
      "tickSize": 4,
      "labelFlush": false
    }
  }
}
